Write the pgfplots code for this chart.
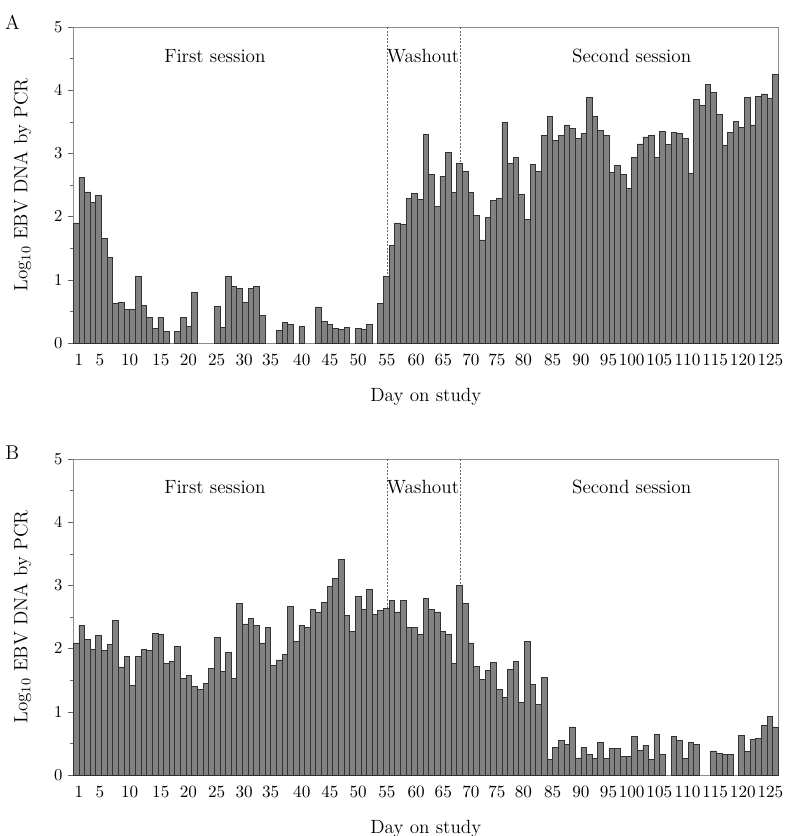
\documentclass[border=0pt]{standalone}
\usepackage{pgfplots}
\pgfplotsset{compat=1.18}
\definecolor{barfill}{RGB}{130,130,130}
\definecolor{baredge}{RGB}{50,50,50}
\definecolor{framegray}{RGB}{140,140,140}

\pgfplotsset{
  ebv/.style={
    scale only axis, width=423pt, height=189.6pt,
    xmin=0.5, xmax=125.5, ymin=0, ymax=5,
    ybar, bar width=1, clip=false,
    axis line style={framegray},
    ytick={0,...,5}, minor ytick={0.5,1.5,...,4.5},
    tick align=outside, ytick pos=left, xtick pos=bottom,
    major tick length=3pt, minor tick length=2pt,
    tick style={framegray!70!black},
    major x tick style={draw=none},
    xtick={1.5,5.2,10.5,16,20.9,25.9,30.8,35.5,41,46,51,56.1,61.3,66.1,71,75.6,80.3,85.5,90.5,95.4,99.5,104.4,109.4,114.3,119.2,124.1},
    xticklabels={1,5,10,15,20,25,30,35,40,45,50,55,60,65,70,75,80,85,90,95,100,105,110,115,120,125},
    ticklabel style={font=\fontsize{10.3}{12}\selectfont},
    xticklabel style={inner xsep=0pt},
    label style={font=\fontsize{11.5}{13}\selectfont},
    xlabel={Day on study}, ylabel={Log$_{10}$ EBV DNA by PCR},
    xlabel style={at={(axis description cs:0.5,-0.171)},anchor=center},
    ylabel style={at={(axis description cs:-0.072,0.5)},anchor=center},
  },
  bars/.style={fill=barfill, draw=baredge, line width=0.5pt},
}
\tikzset{
  sess/.style={font=\fontsize{11.5}{13}\selectfont},
  sep/.style={dash pattern=on 1.2pt off 0.9pt, framegray!75!black, line width=0.4pt},
}

\begin{document}
\begin{tikzpicture}
\useasboundingbox (-44pt,-295.8pt) rectangle (430pt,205.8pt);

% panel A
\begin{axis}[ebv, at={(0pt,0pt)}]
\draw[sep] (axis cs:56.1,5) -- (axis cs:56.1,1.06);
\draw[sep] (axis cs:69.2,5) -- (axis cs:69.2,2.84);
\addplot[bars] coordinates {
(1,1.90) (2,2.62) (3,2.39) (4,2.22) (5,2.34) (6,1.66) (7,1.36) (8,0.63) (9,0.64) (10,0.53)
(11,0.53) (12,1.05) (13,0.60) (14,0.41) (15,0.23) (16,0.41) (17,0.18) (19,0.18) (20,0.41)
(21,0.26) (22,0.80) (26,0.585) (27,0.245) (28,1.05) (29,0.89) (30,0.86)
(31,0.65) (32,0.87) (33,0.89) (34,0.44) (37,0.20) (38,0.32) (39,0.30)
(41,0.26) (44,0.57) (45,0.34) (46,0.29) (47,0.23) (48,0.22) (49,0.25)
(51,0.23) (52,0.21) (53,0.30) (55,0.63) (56,1.06) (57,1.55) (58,1.90) (59,1.88) (60,2.29)
(61,2.36) (62,2.27) (63,3.30) (64,2.66) (65,2.16) (66,2.63) (67,3.02) (68,2.38) (69,2.84) (70,2.72)
(71,2.38) (72,2.02) (73,1.63) (74,1.99) (75,2.25) (76,2.29) (77,3.49) (78,2.84) (79,2.93) (80,2.35)
(81,1.95) (82,2.82) (83,2.72) (84,3.28) (85,3.59) (86,3.21) (87,3.28) (88,3.45) (89,3.39) (90,3.24)
(91,3.31) (92,3.88) (93,3.58) (94,3.36) (95,3.28) (96,2.70) (97,2.81) (98,2.67) (99,2.44) (100,2.93)
(101,3.15) (102,3.26) (103,3.29) (104,2.93) (105,3.35) (106,3.14) (107,3.33) (108,3.32) (109,3.24) (110,2.68)
(111,3.85) (112,3.76) (113,4.09) (114,3.96) (115,3.62) (116,3.13) (117,3.33) (118,3.51) (119,3.41) (120,3.88)
(121,3.45) (122,3.90) (123,3.94) (124,3.87) (125,4.25)
};
\node[sess] at (axis cs:25.6,4.54) {First session};
\node[sess] at (axis cs:62.5,4.54) {Washout};
\node[sess] at (axis cs:99.5,4.54) {Second session};
\node[font=\fontsize{12}{14}\selectfont] at (axis description cs:-0.0865,1.016) {A};
\end{axis}

% panel B
\begin{axis}[ebv, at={(0pt,-259.2pt)}]
\draw[sep] (axis cs:56.1,5) -- (axis cs:56.1,2.63);
\draw[sep] (axis cs:69.2,5) -- (axis cs:69.2,3.00);
\addplot[bars] coordinates {
(1,2.09) (2,2.37) (3,2.15) (4,1.98) (5,2.21) (6,1.97) (7,2.06) (8,2.45) (9,1.71) (10,1.87)
(11,1.42) (12,1.87) (13,1.98) (14,1.97) (15,2.24) (16,2.22) (17,1.76) (18,1.80) (19,2.04) (20,1.53)
(21,1.58) (22,1.40) (23,1.35) (24,1.45) (25,1.68) (26,2.17) (27,1.64) (28,1.94) (29,1.53) (30,2.71)
(31,2.39) (32,2.47) (33,2.37) (34,2.09) (35,2.34) (36,1.73) (37,1.82) (38,1.91) (39,2.66) (40,2.12)
(41,2.37) (42,2.33) (43,2.62) (44,2.58) (45,2.73) (46,2.98) (47,3.11) (48,3.41) (49,2.53) (50,2.27)
(51,2.82) (52,2.62) (53,2.93) (54,2.54) (55,2.60) (56,2.63) (57,2.76) (58,2.58) (59,2.76) (60,2.34)
(61,2.33) (62,2.23) (63,2.79) (64,2.62) (65,2.58) (66,2.27) (67,2.23) (68,1.76) (69,3.00) (70,2.71)
(71,2.09) (72,1.72) (73,1.51) (74,1.66) (75,1.78) (76,1.36) (77,1.23) (78,1.67) (79,1.79) (80,1.15)
(81,2.11) (82,1.43) (83,1.11) (84,1.55) (85,0.24) (86,0.43) (87,0.55) (88,0.49) (89,0.76) (90,0.27)
(91,0.43) (92,0.33) (93,0.26) (94,0.52) (95,0.26) (96,0.42) (97,0.42) (98,0.30) (99,0.30) (100,0.61)
(101,0.39) (102,0.47) (103,0.25) (104,0.64) (105,0.32) (107,0.61) (108,0.55) (109,0.26) (110,0.51)
(111,0.49) (114,0.38) (115,0.34) (116,0.32) (117,0.32) (119,0.62) (120,0.37)
(121,0.56) (122,0.58) (123,0.79) (124,0.93) (125,0.76)
};
\node[sess] at (axis cs:25.6,4.56) {First session};
\node[sess] at (axis cs:62.5,4.56) {Washout};
\node[sess] at (axis cs:99.5,4.56) {Second session};
\node[font=\fontsize{12}{14}\selectfont] at (axis description cs:-0.0865,1.019) {B};
\end{axis}
\end{tikzpicture}
\end{document}
